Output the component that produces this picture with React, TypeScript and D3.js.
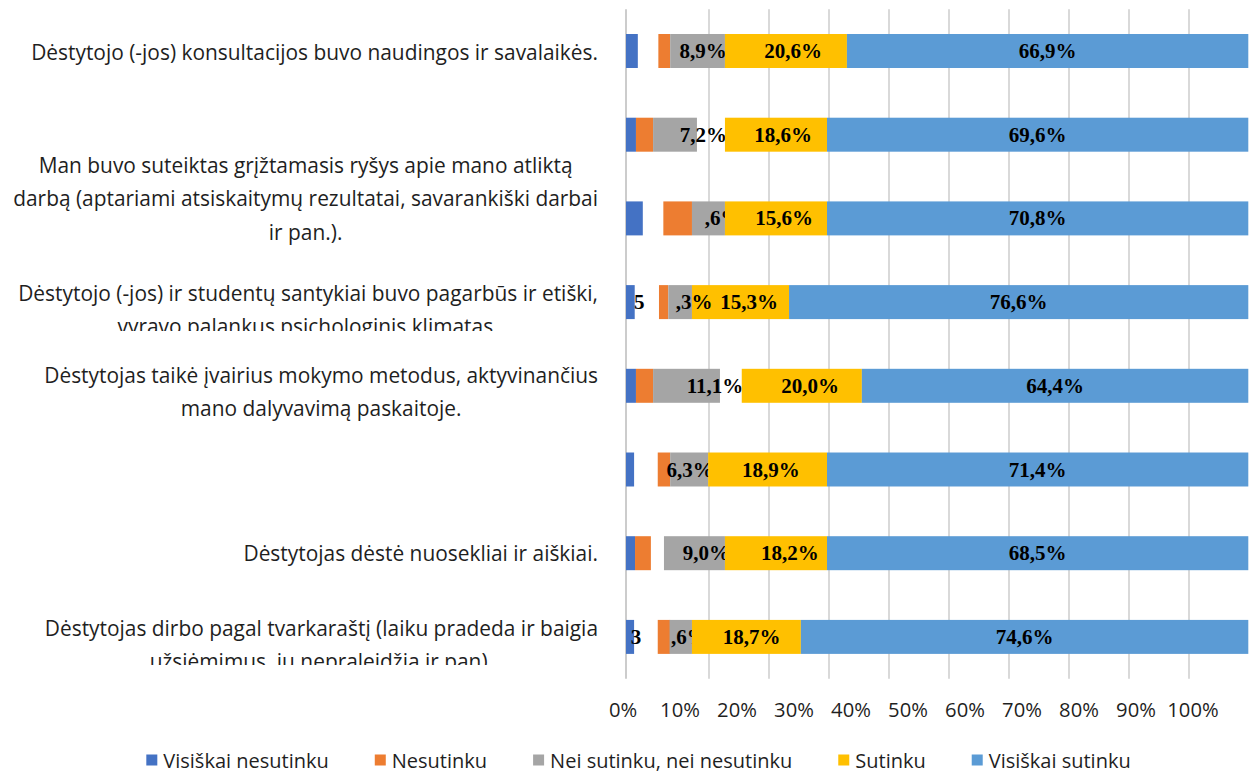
import React, { useEffect, useRef } from "react";
import * as d3 from "d3";

const W = 1257;
const H = 773;

// ---------- data ----------
const questions = ["Q1", "Q2", "Q3", "Q4", "Q5", "Q6", "Q7", "Q8"];

const questionLines: string[][] = [
  ["Dėstytojo (-jos) konsultacijos buvo naudingos ir savalaikės."],
  [],
  [
    "Man buvo suteiktas grįžtamasis ryšys apie mano atliktą",
    "darbą (aptariami atsiskaitymų rezultatai, savarankiški darbai",
    "ir pan.).",
  ],
  [
    "Dėstytojo (-jos) ir studentų santykiai buvo pagarbūs ir etiški,",
    "vyravo palankus psichologinis klimatas.",
  ],
  [
    "Dėstytojas taikė įvairius mokymo metodus, aktyvinančius",
    "mano dalyvavimą paskaitoje.",
  ],
  [],
  ["Dėstytojas dėstė nuosekliai ir aiškiai."],
  [
    "Dėstytojas dirbo pagal tvarkaraštį (laiku pradeda ir baigia",
    "užsiėmimus, jų nepraleidžia ir pan).",
  ],
];

const seriesNames = [
  "Visiškai nesutinku",
  "Nesutinku",
  "Nei sutinku, nei nesutinku",
  "Sutinku",
  "Visiškai sutinku",
];

// segment extents [start, end] in percent, as drawn in the picture
const visiskaiNesutinku: [number, number][] = [
  [0, 1.9], [0, 1.6], [0, 2.7], [0, 1.4], [0, 1.6], [0, 1.3], [0, 1.45], [0, 1.3],
];
const nesutinku: [number, number][] = [
  [5.2, 7.1], [1.6, 4.35], [6.0, 10.6], [5.3, 6.8], [1.6, 4.35], [5.1, 7.1], [1.45, 4.0], [5.1, 7.1],
];
const neiNei: [number, number][] = [
  [7.1, 15.9], [4.35, 11.4], [10.6, 15.9], [6.8, 10.6], [4.35, 15.1], [7.1, 13.2], [6.1, 15.9], [7.0, 10.6],
];
const sutinku: [number, number][] = [
  [15.9, 35.5], [15.9, 32.3], [15.9, 32.3], [10.6, 26.2], [18.6, 37.9], [13.2, 32.3], [15.9, 32.3], [10.6, 28.1],
];
const visiskaiSutinku: [number, number][] = [
  [35.5, 100], [32.3, 100], [32.3, 100], [26.2, 100], [37.9, 100], [32.3, 100], [32.3, 100], [28.1, 100],
];

// data labels as they appear
const visiskaiNesutinkuLabels = ["", "", "", "5", "", "", "", "3"];
const neiNeiLabels = ["8,9%", "7,2%", ",6%", ",3%", "11,1%", "6,3%", "9,0%", ",6%"];
const sutinkuLabels = ["20,6%", "18,6%", "15,6%", "15,3%", "20,0%", "18,9%", "18,2%", "18,7%"];
const visiskaiSutinkuLabels = ["66,9%", "69,6%", "70,8%", "76,6%", "64,4%", "71,4%", "68,5%", "74,6%"];

// label anchor positions in percent
const visiskaiNesutinkuLabelAt = [0, 0, 0, 2.14, 0, 0, 0, 1.6];
const neiNeiLabelAt = [12.4, 12.45, 15.6, 10.93, 14.3, 10.3, 12.9, 10.2];
const sutinkuLabelAt = [26.84, 25.23, 25.39, 19.77, 29.57, 23.3, 26.35, 20.17];

const xTickValues = [0, 10, 20, 30, 40, 50, 60, 70, 80, 90, 100];
const gridValues = [10, 20, 30, 40, 50, 60, 70, 80, 90];

// ---------- layout / style ----------
const COLORS = ["#4472C4", "#ED7D31", "#A5A5A5", "#FFC000", "#5B9BD5"];
const LABEL_FONT = "'Open Sans', 'Noto Sans', sans-serif";
const VALUE_FONT = "'Liberation Serif', 'Times New Roman', serif";
const LAYOUT = {
  bandTop: 9.15,
  bandBottom: 678.75,
  barLeft: 626,
  barRight: 1248.3,
  gridLeft: 649,
  gridRight: 1249,
  tickLeft: 623,
  tickRight: 1193,
  tickY: 709,
  labelRight: 598,
  lineHeight: 33.5,
  labelShift: [1, 0, -20, 7.5, 5.5, 0, 0, 7.5],
  labelClip: [null, null, null, 331, null, null, null, 665] as (number | null)[],
  grayLabelOnTop: [false, false, false, true, false, false, false, false],
  legendY: 760,
  legendCenter: 638.5,
  legendGap: 46,
  catFontSize: 20.9,
  tickFontSize: 20.2,
  legendFontSize: 20,
  valueFontSize: 21,
};

export default function App() {
  const ref = useRef<SVGSVGElement>(null);

  useEffect(() => {
    const svg = d3.select(ref.current!);
    svg.selectAll("*").remove();

    const idx = d3.range(questions.length);
    const y = d3
      .scaleBand<number>()
      .domain(idx)
      .range([LAYOUT.bandTop, LAYOUT.bandBottom])
      .paddingInner(0.594)
      .paddingOuter(0.297);
    const x = d3.scaleLinear().domain([0, 100]).range([LAYOUT.barLeft, LAYOUT.barRight]);
    const gx = d3.scaleLinear().domain([0, 100]).range([LAYOUT.gridLeft, LAYOUT.gridRight]);
    const tx = d3.scaleLinear().domain([0, 100]).range([LAYOUT.tickLeft, LAYOUT.tickRight]);
    const yc = (i: number) => (y(i) as number) + y.bandwidth() / 2;

    svg.append("rect").attr("width", W).attr("height", H).attr("fill", "#fff");

    // gridlines
    svg
      .append("g")
      .selectAll("line")
      .data(gridValues)
      .join("line")
      .attr("x1", (d) => gx(d))
      .attr("x2", (d) => gx(d))
      .attr("y1", LAYOUT.bandTop)
      .attr("y2", LAYOUT.bandBottom)
      .attr("stroke", "#d9d9d9")
      .attr("stroke-width", 2);
    svg
      .append("line")
      .attr("x1", x(0))
      .attr("x2", x(0))
      .attr("y1", LAYOUT.bandTop)
      .attr("y2", LAYOUT.bandBottom)
      .attr("stroke", "#cccccc")
      .attr("stroke-width", 2);

    const drawBars = (data: [number, number][], color: string) => {
      svg
        .append("g")
        .selectAll("rect")
        .data(data)
        .join("rect")
        .attr("x", (d) => x(d[0]))
        .attr("width", (d) => x(d[1]) - x(d[0]))
        .attr("y", (_, i) => y(i) as number)
        .attr("height", y.bandwidth())
        .attr("fill", color);
    };
    const drawLabels = (
      texts: string[],
      pos: (i: number) => number,
      filter: (i: number) => boolean
    ) => {
      svg
        .append("g")
        .selectAll("text")
        .data(texts.map((t, i) => ({ t, i })).filter((d) => d.t && filter(d.i)))
        .join("text")
        .attr("x", (d) => pos(d.i))
        .attr("y", (d) => yc(d.i))
        .attr("text-anchor", "middle")
        .attr("dominant-baseline", "central")
        .attr("font-family", VALUE_FONT)
        .attr("font-weight", "bold")
        .attr("font-size", LAYOUT.valueFontSize)
        .attr("fill", "#000")
        .text((d) => d.t);
    };

    drawBars(visiskaiNesutinku, COLORS[0]);
    drawBars(nesutinku, COLORS[1]);
    drawBars(neiNei, COLORS[2]);
    drawLabels(neiNeiLabels, (i) => x(neiNeiLabelAt[i]), (i) => !LAYOUT.grayLabelOnTop[i]);
    drawBars(sutinku, COLORS[3]);
    drawLabels(neiNeiLabels, (i) => x(neiNeiLabelAt[i]), (i) => LAYOUT.grayLabelOnTop[i]);
    drawLabels(sutinkuLabels, (i) => x(sutinkuLabelAt[i]), () => true);
    drawBars(visiskaiSutinku, COLORS[4]);
    drawLabels(
      visiskaiSutinkuLabels,
      (i) => (x(visiskaiSutinku[i][0]) + x(visiskaiSutinku[i][1])) / 2,
      () => true
    );
    drawLabels(visiskaiNesutinkuLabels, (i) => x(visiskaiNesutinkuLabelAt[i]), () => true);

    // category labels
    const defs = svg.append("defs");
    const catG = svg.append("g");
    questionLines.forEach((lines, i) => {
      if (!lines.length) return;
      const g = catG.append("g");
      const clip = LAYOUT.labelClip[i];
      if (clip !== null) {
        const id = `clip-cat-${i}`;
        defs
          .append("clipPath")
          .attr("id", id)
          .append("rect")
          .attr("x", 0)
          .attr("y", 0)
          .attr("width", LAYOUT.labelRight + 10)
          .attr("height", clip);
        g.attr("clip-path", `url(#${id})`);
      }
      const center = yc(i) + LAYOUT.labelShift[i];
      const n = lines.length;
      const texts = g
        .selectAll("text")
        .data(lines)
        .join("text")
        .attr("y", (_, k) => center + (k - (n - 1) / 2) * LAYOUT.lineHeight)
        .attr("dominant-baseline", "central")
        .attr("font-family", LABEL_FONT)
        .attr("font-size", LAYOUT.catFontSize)
        .attr("fill", "#1f1f1f")
        .text((d) => d);
      if (n === 1) {
        texts.attr("x", LAYOUT.labelRight).attr("text-anchor", "end");
      } else {
        let maxW = 0;
        texts.each(function () {
          maxW = Math.max(maxW, (this as SVGTextElement).getComputedTextLength());
        });
        texts.attr("x", LAYOUT.labelRight - maxW / 2).attr("text-anchor", "middle");
      }
    });

    // x tick labels
    svg
      .append("g")
      .selectAll("text")
      .data(xTickValues)
      .join("text")
      .attr("x", (d) => tx(d))
      .attr("y", LAYOUT.tickY)
      .attr("text-anchor", "middle")
      .attr("dominant-baseline", "central")
      .attr("font-family", LABEL_FONT)
      .attr("font-size", LAYOUT.tickFontSize)
      .attr("fill", "#1f1f1f")
      .text((d) => `${d}%`);

    // legend
    const lg = svg.append("g");
    const items = lg.selectAll("g").data(seriesNames).join("g");
    items
      .append("rect")
      .attr("width", 11)
      .attr("height", 11)
      .attr("y", LAYOUT.legendY - 5.5)
      .attr("fill", (_, i) => COLORS[i]);
    const ltexts = items
      .append("text")
      .attr("x", 17)
      .attr("y", LAYOUT.legendY)
      .attr("dominant-baseline", "central")
      .attr("font-family", LABEL_FONT)
      .attr("font-size", LAYOUT.legendFontSize)
      .attr("fill", "#1f1f1f")
      .text((d) => d);
    const widths: number[] = [];
    ltexts.each(function () {
      widths.push((this as SVGTextElement).getComputedTextLength());
    });
    const gap = LAYOUT.legendGap;
    const itemW = widths.map((w) => 17 + w);
    const total = d3.sum(itemW) + gap * (itemW.length - 1);
    let cx = LAYOUT.legendCenter - total / 2;
    items.each(function (_, i) {
      d3.select(this).attr("transform", `translate(${cx},0)`);
      cx += itemW[i] + gap;
    });
  }, []);

  return (
    <svg
      ref={ref}
      width={W}
      height={H}
      style={{ position: "absolute", left: 0, top: 0, display: "block" }}
    />
  );
}
